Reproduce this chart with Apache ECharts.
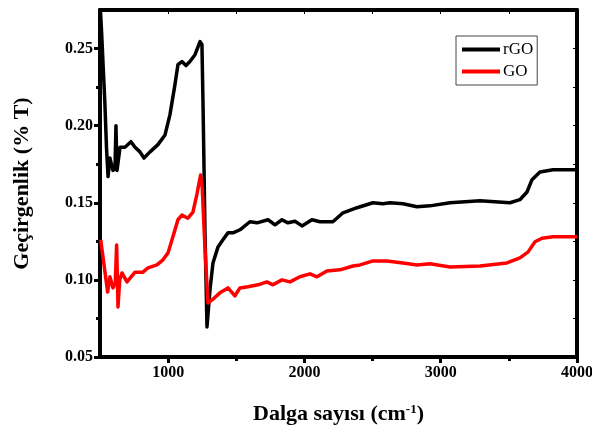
<!DOCTYPE html>
<html><head><meta charset="utf-8">
<script src="https://cdn.jsdelivr.net/npm/echarts@6/dist/echarts.min.js"></script>
<style>html,body{margin:0;padding:0;background:#fff}#c{width:592px;height:430px}</style>
</head><body><div id="c"></div>
<script>
const rgoX = [500,512,525,536,548,559,573,595,610,617,625,647,683,727,757,793,823,867,925,977,1013,1050,1072,1101,1131,1160,1197,1234,1248,1256,1262,1270,1285,1307,1329,1366,1402,1439,1476,1527,1600,1652,1733,1784,1835,1879,1931,1982,2055,2114,2209,2283,2386,2503,2576,2628,2723,2826,2921,3068,3288,3508,3581,3633,3670,3728,3824,4000];
const rgoY = [0.28,0.26,0.235,0.214,0.185,0.167,0.179,0.171,0.172,0.200,0.171,0.186,0.186,0.1896,0.186,0.183,0.179,0.183,0.1877,0.194,0.207,0.2266,0.2396,0.2416,0.239,0.2416,0.246,0.2545,0.2526,0.2136,0.18,0.1325,0.0695,0.0935,0.111,0.1214,0.126,0.1305,0.1305,0.1325,0.1377,0.137,0.139,0.1357,0.139,0.137,0.138,0.135,0.139,0.1377,0.1377,0.1435,0.1468,0.150,0.1494,0.150,0.1494,0.1474,0.148,0.150,0.1513,0.150,0.152,0.157,0.165,0.170,0.1714,0.1714];
const goX = [505,556,573,595,612,622,632,645,661,698,757,815,852,918,962,999,1035,1072,1101,1145,1182,1212,1238,1250,1270,1292,1322,1380,1439,1490,1527,1586,1659,1725,1769,1835,1894,1967,2041,2092,2165,2261,2356,2408,2503,2606,2723,2826,2921,3068,3288,3486,3581,3640,3692,3743,3824,4000];
const goY = [0.126,0.0922,0.102,0.0948,0.098,0.1227,0.0825,0.1,0.1045,0.0987,0.105,0.105,0.1078,0.1097,0.113,0.1175,0.128,0.139,0.142,0.140,0.144,0.156,0.168,0.16,0.121,0.085,0.087,0.0916,0.0948,0.0896,0.0948,0.0955,0.0968,0.0987,0.0968,0.100,0.0987,0.102,0.1039,0.102,0.1058,0.1065,0.109,0.1097,0.1123,0.1123,0.111,0.1097,0.1104,0.1084,0.109,0.111,0.1143,0.118,0.1247,0.127,0.1279,0.1279];
const xMajor = [1000,2000,3000,4000];
const xMinor = [1500,2500,3500];
const yMajor = [0.05,0.10,0.15,0.20,0.25];
const yMinor = [0.075,0.125,0.175,0.225];

const FONT = '"Liberation Serif","Times New Roman",serif';
const pair = (xs, ys) => xs.map((x, i) => [x, ys[i]]);
const lineStyle = {color:'#000', width:4};

function xAx(pos, ticks, len, inside, labels, lineShow, name) {
  return {
    type:'value', position:pos, min:500, max:4000,
    axisLine:{show:lineShow, onZero:false, lineStyle},
    axisTick:{show:true, inside, length:len, customValues:ticks, lineStyle:{color:'#000', width:inside?1:3}},
    axisLabel:{show:labels, customValues:ticks, formatter:v=>String(Math.round(v)), fontFamily:FONT, fontWeight:'bold', fontSize:16, color:'#000', margin:8},
    splitLine:{show:false},
    name: name || '', nameLocation:'middle', nameGap:46,
    nameTextStyle:{fontFamily:FONT, fontWeight:'bold', fontSize:22, color:'#000',
      rich:{a:{fontFamily:FONT, fontWeight:'bold', fontSize:22, color:'#000'},
            s:{fontFamily:FONT, fontWeight:'bold', fontSize:13, color:'#000', verticalAlign:'top', padding:[0,0,10,0]}}}
  };
}
function yAx(pos, ticks, len, inside, labels, lineShow, name) {
  return {
    type:'value', position:pos, min:0.05, max:0.275,
    axisLine:{show:lineShow, onZero:false, lineStyle},
    axisTick:{show:true, inside, length:len, customValues:ticks, lineStyle:{color:'#000', width:inside?1:3}},
    axisLabel:{show:labels, customValues:ticks, formatter:v=>v.toFixed(2), fontFamily:FONT, fontWeight:'bold', fontSize:16, color:'#000', margin:7},
    splitLine:{show:false},
    name: name || '', nameLocation:'middle', nameGap:67,
    nameTextStyle:{fontFamily:FONT, fontWeight:'bold', fontSize:22, color:'#000'}
  };
}

const chart = echarts.init(document.getElementById('c'), null, {renderer:'canvas'});
chart.setOption({
  backgroundColor:'#fff',
  animation:false,
  grid:{left:100, right:15, top:10, bottom:73, containLabel:false, outerBoundsMode:'none'},
  xAxis:[
    xAx('bottom', xMajor, 6, false, true, true, '{a|Dalga sayısı (cm}{s|-1}{a|)}'),
    xAx('bottom', xMinor, 4, false, false, false),
    xAx('top', xMajor.concat(xMinor), 4, true, false, true)
  ],
  yAxis:[
    yAx('left', yMajor, 6, false, true, true, 'Geçirgenlik (% T)'),
    yAx('left', yMinor, 4, false, false, false),
    yAx('right', yMajor.concat(yMinor), 4, true, false, true)
  ],
  legend:{
    show:true, orient:'vertical', left:456, top:36,
    data:['rGO','GO'], icon:'rect', itemWidth:38, itemHeight:4, itemGap:5,
    borderColor:'#444', borderWidth:1, padding:[5,4,5,6], backgroundColor:'#fff',
    textStyle:{fontFamily:FONT, fontSize:17, color:'#000', padding:[0,0,0,-2]}
  },
  series:[
    {name:'rGO', type:'line', data:pair(rgoX, rgoY), xAxisIndex:0, yAxisIndex:0, showSymbol:false, symbol:'none', clip:true,
     color:'#000', lineStyle:{color:'#000', width:3.5, join:'round'}},
    {name:'GO', type:'line', data:pair(goX, goY), xAxisIndex:0, yAxisIndex:0, showSymbol:false, symbol:'none', clip:true,
     color:'#ff0000', lineStyle:{color:'#ff0000', width:3.5, join:'round'}}
  ]
});
</script></body></html>
